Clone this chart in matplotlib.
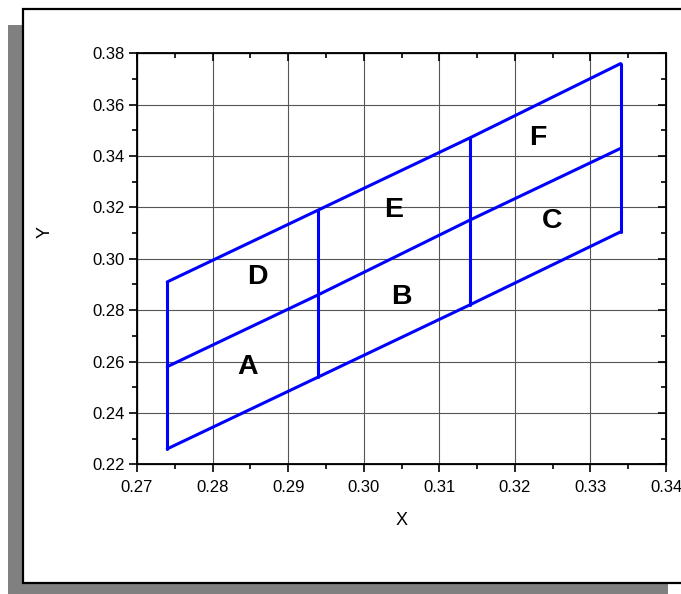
import matplotlib
matplotlib.use('Agg')
import matplotlib.pyplot as plt
from matplotlib.patches import Rectangle
from matplotlib.ticker import MultipleLocator

# corner values
x_cols = [0.274, 0.294, 0.314, 0.334]
y_top = [0.291, 0.319, 0.347, 0.376]
y_mid = [0.258, 0.286, 0.315, 0.343]
y_bot = [0.226, 0.254, 0.282, 0.3105]

region_names = ['A', 'B', 'C', 'D', 'E', 'F']
region_x = [0.2847, 0.3050, 0.3249, 0.2859, 0.3040, 0.3231]
region_y = [0.2580, 0.2851, 0.3148, 0.2929, 0.3189, 0.3470]

plt.rcParams['font.family'] = ['Liberation Sans', 'DejaVu Sans']

fig = plt.figure(figsize=(6.81, 5.94), dpi=100)

# page shadow and frame
fig.patches.append(Rectangle((0.0117, -0.02), 0.969, 0.978, transform=fig.transFigure,
                             facecolor='#808080', edgecolor='none', zorder=0))
fig.patches.append(Rectangle((0.0338, 0.0185), 1.0, 0.9665, transform=fig.transFigure,
                             facecolor='white', edgecolor='black', lw=1.6, zorder=1))

ax = fig.add_axes([0.2012, 0.2184, 0.7768, 0.6919])
ax.set_zorder(2)
ax.patch.set_alpha(0)

blue = '#0000ff'
lw = 2.2
kw = dict(color=blue, lw=lw, solid_capstyle='round', solid_joinstyle='miter')
ax.plot(x_cols, y_top, **kw)
ax.plot(x_cols, y_mid, **kw)
ax.plot(x_cols, y_bot, **kw)
for i in [0, 1, 2, 3]:
    ax.plot([x_cols[i], x_cols[i]], [y_bot[i], y_top[i]], **kw)

for name, tx, ty in zip(region_names, region_x, region_y):
    ax.text(tx, ty, name, fontsize=20.5, fontweight='bold', ha='center', va='center')

ax.set_xlim(0.27, 0.34)
ax.set_ylim(0.22, 0.38)
ax.xaxis.set_major_locator(MultipleLocator(0.01))
ax.xaxis.set_minor_locator(MultipleLocator(0.005))
ax.yaxis.set_major_locator(MultipleLocator(0.02))
ax.yaxis.set_minor_locator(MultipleLocator(0.01))
ax.xaxis.set_major_formatter(plt.FormatStrFormatter('%.2f'))
ax.yaxis.set_major_formatter(plt.FormatStrFormatter('%.2f'))

ax.grid(True, which='major', color='#555555', lw=0.8)
ax.set_axisbelow(True)

for s in ax.spines.values():
    s.set_linewidth(1.3)
ax.tick_params(which='major', direction='out', length=6, width=1.2, labelsize=12, pad=3)
ax.tick_params(axis='x', which='major', pad=5)
ax.tick_params(which='minor', direction='out', length=3.5, width=1.2)

# inward ticks on top and right, no labels
ax2 = ax.twinx()
ax2.set_ylim(ax.get_ylim())
ax2.yaxis.set_major_locator(MultipleLocator(0.02))
ax2.yaxis.set_minor_locator(MultipleLocator(0.01))
ax2.tick_params(which='major', direction='in', length=6, width=1.2, labelright=False)
ax2.tick_params(which='minor', direction='in', length=3.5, width=1.2)
ax3 = ax.twiny()
ax3.set_xlim(ax.get_xlim())
ax3.xaxis.set_major_locator(MultipleLocator(0.01))
ax3.xaxis.set_minor_locator(MultipleLocator(0.005))
ax3.tick_params(which='major', direction='in', length=6, width=1.2, labeltop=False)
ax3.tick_params(which='minor', direction='in', length=3.5, width=1.2)

ax.set_xlabel('X', fontsize=13)
ax.set_ylabel('Y', fontsize=13)
ax.xaxis.set_label_coords(0.5, -0.115)
ax.yaxis.set_label_coords(-0.158, 0.565)

fig.savefig('out.png', dpi=100)
